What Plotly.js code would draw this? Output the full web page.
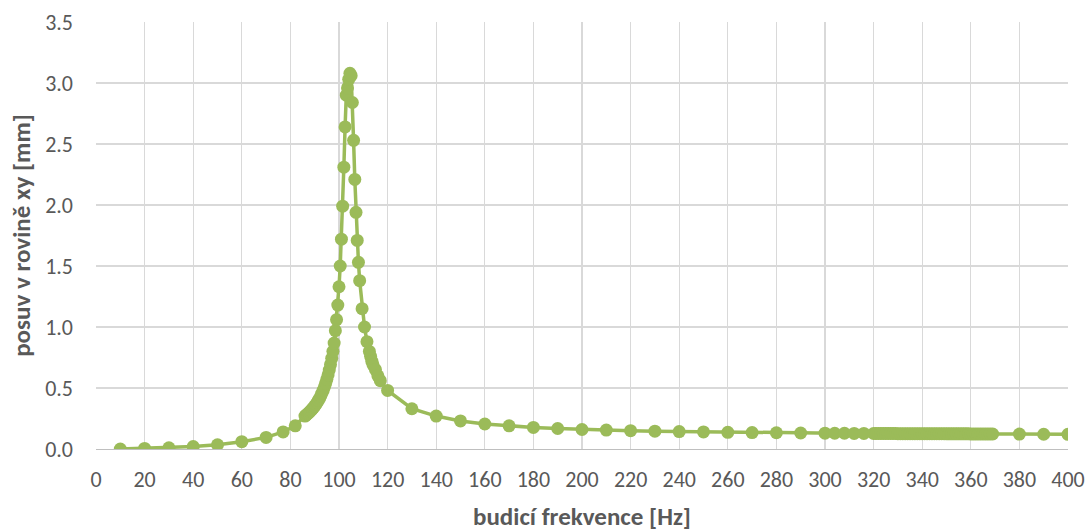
<!DOCTYPE html>
<html>
<head>
<meta charset="utf-8">
<script src="https://cdn.plot.ly/plotly-3.0.1.min.js"></script>
<style>html,body{margin:0;padding:0;background:#fff;}#chart{width:1086px;height:532px;}</style>
</head>
<body>
<div id="chart"></div>
<script>
// Frequencies [Hz]
var freqLow = [10, 20, 30, 40, 50, 60, 70, 77, 82];
var dispLow = [0.000, 0.005, 0.010, 0.020, 0.035, 0.060, 0.095, 0.140, 0.190];

var freqRise = [86, 86.5, 87, 87.5, 88, 88.5, 89, 89.5, 90, 90.5, 91, 91.5, 92, 92.5, 93, 93.5, 94, 94.5, 95, 95.5, 96, 96.5, 97, 97.5, 98];
var dispRise = [0.270, 0.278, 0.287, 0.296, 0.306, 0.316, 0.327, 0.339, 0.352, 0.366, 0.381, 0.398, 0.416, 0.436, 0.458, 0.482, 0.509, 0.538, 0.571, 0.607, 0.647, 0.692, 0.743, 0.801, 0.868];

var freqPeak = [98.5, 99, 99.5, 100, 100.5, 101, 101.5, 102, 102.5, 103, 103.5, 104, 104.5, 105, 105.5, 106, 106.5, 107, 107.5, 108, 108.5, 109.5, 110.5, 111.5, 112.5, 113, 113.5, 114, 115, 116, 117, 120];
var dispPeak = [0.970, 1.060, 1.180, 1.330, 1.500, 1.720, 1.990, 2.310, 2.640, 2.900, 2.960, 3.030, 3.080, 3.060, 2.840, 2.530, 2.210, 1.940, 1.710, 1.530, 1.380, 1.150, 1.000, 0.880, 0.800, 0.760, 0.720, 0.690, 0.650, 0.600, 0.560, 0.480];

var freqTail = [130, 140, 150, 160, 170, 180, 190, 200, 210, 220, 230, 240, 250, 260, 270, 280, 290, 300, 304, 308, 312, 316];
var dispTail = [0.330, 0.270, 0.230, 0.205, 0.190, 0.177, 0.168, 0.160, 0.155, 0.150, 0.146, 0.143, 0.140, 0.137, 0.135, 0.133, 0.131, 0.130, 0.129, 0.129, 0.128, 0.128];

var freqDense = [320, 321, 322, 323, 324, 325, 326, 327, 328, 329, 330, 331, 332, 333, 334, 335, 336, 337, 338, 339, 340, 341, 342, 343, 344, 345, 346, 347, 348, 349, 350, 351, 352, 353, 354, 355, 356, 357, 358, 359, 360, 361, 362, 363, 364, 365, 366, 367, 368, 369];
var dispDense = [0.127, 0.127, 0.127, 0.127, 0.127, 0.127, 0.127, 0.127, 0.127, 0.127, 0.126, 0.126, 0.126, 0.126, 0.126, 0.126, 0.126, 0.126, 0.126, 0.126, 0.125, 0.125, 0.125, 0.125, 0.125, 0.125, 0.125, 0.125, 0.125, 0.125, 0.124, 0.124, 0.124, 0.124, 0.124, 0.124, 0.124, 0.124, 0.124, 0.124, 0.123, 0.123, 0.123, 0.123, 0.123, 0.123, 0.123, 0.123, 0.123, 0.123];

var freqEnd = [380, 390, 400];
var dispEnd = [0.122, 0.121, 0.120];

var xTitle = "budicí frekvence [Hz]";
var yTitle = "posuv v rovině xy [mm]";

var xs = [].concat(freqLow, freqRise, freqPeak, freqTail, freqDense, freqEnd);
var ys = [].concat(dispLow, dispRise, dispPeak, dispTail, dispDense, dispEnd);

var green = "#9BBB59";
var trace = {
  x: xs, y: ys, type: "scatter", mode: "lines+markers",
  line: {color: green, width: 3.5},
  marker: {color: green, size: 13},
  hoverinfo: "x+y", showlegend: false
};

var fam = "Carlito, Calibri, Lato, 'Liberation Sans', Arial, sans-serif";
var tickFont = {family: fam, size: 22, color: "#595959"};
var titleFont = {family: fam, size: 25, color: "#595959", weight: "bold"};

var layout = {
  width: 1086, height: 532,
  margin: {l: 96, r: 18, t: 22, b: 83},
  paper_bgcolor: "#fff", plot_bgcolor: "#fff",
  xaxis: {
    range: [0, 400], dtick: 20, tick0: 0,
    showgrid: true, gridcolor: "#D9D9D9", gridwidth: 1.3,
    zeroline: false, showline: true, linecolor: "#BFBFBF", linewidth: 1.3,
    ticks: "", tickfont: tickFont, ticklabelstandoff: 10,
    automargin: false,
    title: {text: "<b>" + xTitle + "</b>", font: titleFont, standoff: 15}
  },
  yaxis: {
    range: [0, 3.5], dtick: 0.5, tick0: 0, tickformat: ".1f",
    showgrid: true, gridcolor: "#D9D9D9", gridwidth: 1.3,
    zeroline: false, showline: false,
    ticks: "", tickfont: tickFont, ticklabelstandoff: 22,
    automargin: false,
    title: {text: "<b>" + yTitle + "</b>", font: titleFont, standoff: 7}
  },
  showlegend: false
};

Plotly.newPlot("chart", [trace], layout, {displayModeBar: false, staticPlot: true});
</script>
</body>
</html>
